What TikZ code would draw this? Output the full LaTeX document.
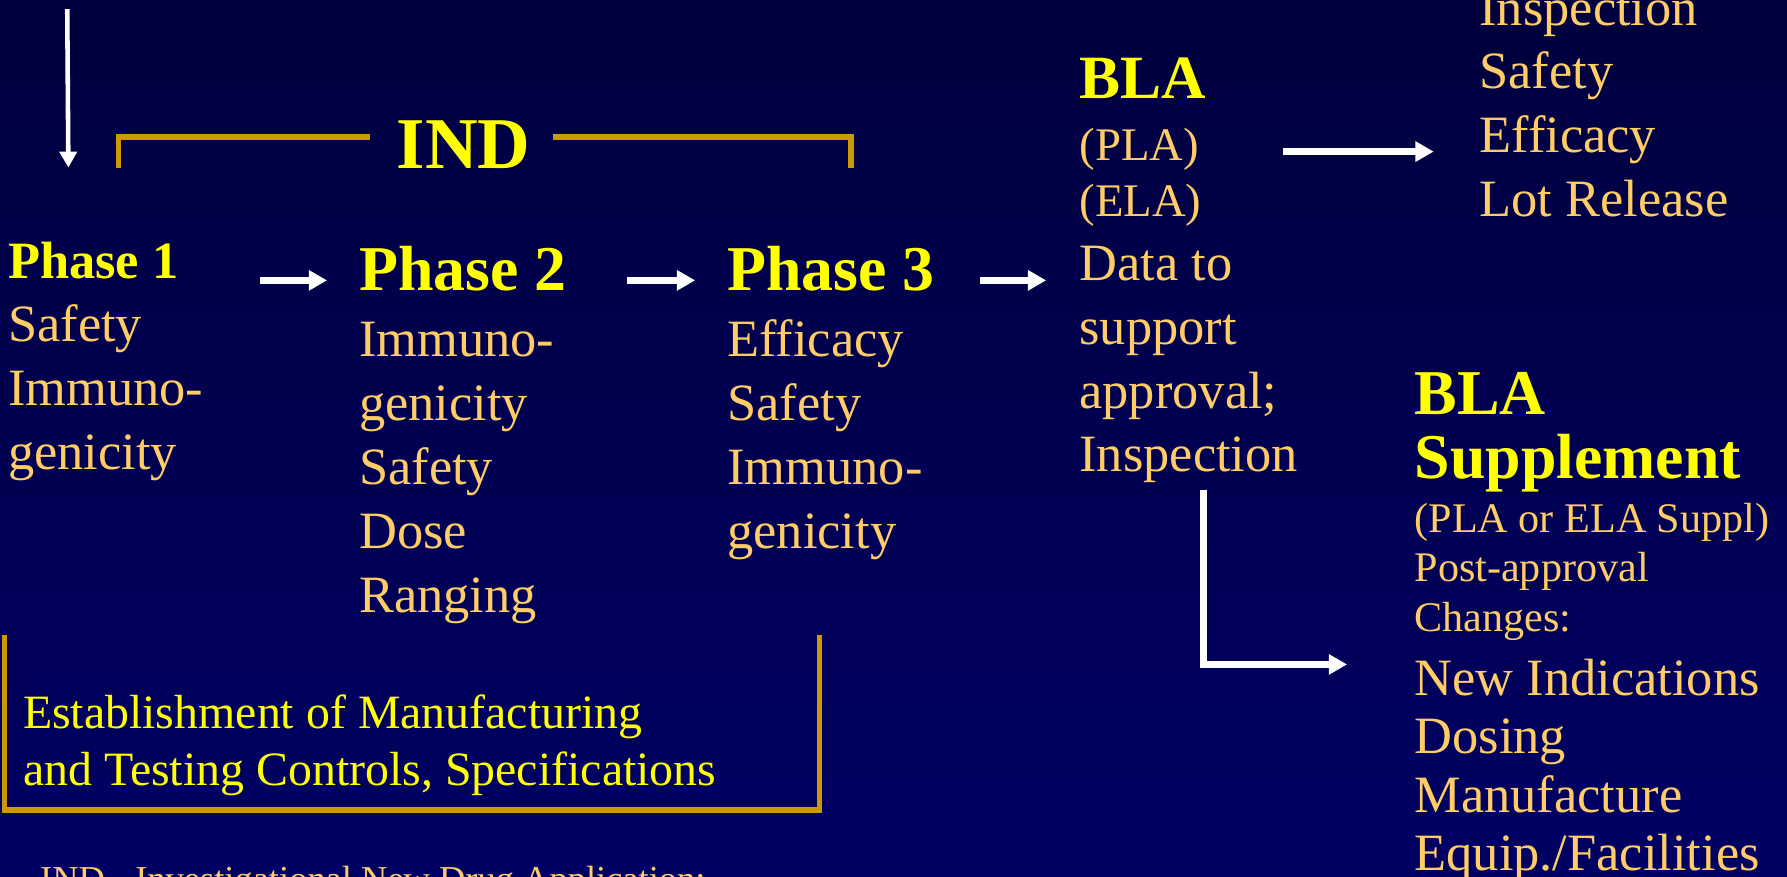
\documentclass[tikz,border=0pt]{standalone}
\usepackage{fontspec}
\setmainfont{Liberation Serif}
\usetikzlibrary{arrows.meta}

\definecolor{slidetop}{RGB}{0,0,62}
\definecolor{slidebot}{RGB}{0,0,100}
\definecolor{peach}{RGB}{255,204,102}
\definecolor{lemon}{RGB}{255,255,0}
\definecolor{gold}{RGB}{204,153,0}

\tikzset{
	body/.style={text=peach, anchor=base west, inner sep=0pt, font=\fontsize{46}{56}\selectfont},
	small/.style={body, font=\fontsize{41}{50}\selectfont},
	note/.style={body, font=\fontsize{37}{43}\selectfont},
	head/.style={text=lemon, anchor=base west, inner sep=0pt, font=\bfseries\fontsize{56}{56}\selectfont},
	flow/.style={draw=white, line width=6pt, -{Triangle[length=16pt,width=17pt]}},
	bracket/.style={draw=gold, line width=5pt},
}

\begin{document}
\begin{tikzpicture}[x=1pt, y=-1pt]
		\clip (0,0) rectangle (1568,769.5);
		\shade[top color=slidetop, bottom color=slidebot] (0,0) rectangle (1568,769.5);
		% IND bracket
		\node[head, font=\bfseries\fontsize{64}{64}\selectfont] (ind) at (348,148) {IND};
		\draw[bracket] (104,147) |- (325,120);
		\draw[bracket] (485,120) -| (747,147);
		% phases
		\node[head, font=\bfseries\fontsize{46}{56}\selectfont] (ph1) at (7,244) {Phase 1};
		\foreach \t [count=\i] in {Safety,Immuno-,genicity}
		{
			\node[body] (ph1-\i) at (7,{300+56*(\i-1)}) {\t};
		}
		\node[head] (ph2) at (315,255) {Phase 2};
		\foreach \t [count=\i] in {Immuno-,genicity,Safety,Dose,Ranging}
		{
			\node[body] (ph2-\i) at (315,{313+56*(\i-1)}) {\t};
		}
		\node[head] (ph3) at (638,255) {Phase 3};
		\foreach \t [count=\i] in {Efficacy,Safety,Immuno-,genicity}
		{
			\node[body] (ph3-\i) at (638,{313+56*(\i-1)}) {\t};
		}
		% BLA
		\node[head, font=\bfseries\fontsize{54}{56}\selectfont] (bla) at (947,86) {BLA};
		\node[small] (bla-p) at (947,141) {(PLA)};
		\node[small] (bla-e) at (947,190) {(ELA)};
		\foreach \t [count=\i] in {Data to,support,approval;,Inspection}
		{
			\node[body] (bla-\i) at (947,{246+56*(\i-1)}) {\t};
		}
		\foreach \t [count=\i] in {Inspection,Safety,Efficacy,Lot Release}
		{
			\node[body] (chk-\i) at (1298,{22+56*(\i-1)}) {\t};
		}
		% supplement
		\node[head] (sup) at (1241,364) {BLA};
		\node[head] (sup-2) at (1241,420) {Supplement};
		\foreach \t [count=\i] in {(PLA or ELA Suppl),Post-approval,Changes:}
		{
			\node[note] (sup-n\i) at (1241,{467+43.5*(\i-1)}) {\t};
		}
		\foreach \t [count=\i] in {New Indications,Dosing,Manufacture,Equip./Facilities}
		{
			\node[body] (chg-\i) at (1241,{610+51.3*(\i-1)}) {\t};
		}
		% manufacturing box
		\draw[bracket] (4,557) |- (719,711) -- (719,557);
		\node[body, text=lemon, font=\fontsize{42}{50}\selectfont] (mfg-1) at (20,639) {Establishment of Manufacturing};
		\node[body, text=lemon, font=\fontsize{42}{50}\selectfont] (mfg-2) at (20,689) {and Testing Controls, Specifications};
		\node[body, font=\fontsize{32}{38}\selectfont] (abbr) at (35,782) {IND - Investigational New Drug Application;};
		% arrows
		\coordinate (in-s) at (59,8);
		\coordinate (in-e) at (60,147);
		\draw[draw=white, line width=4pt, -{Triangle[length=14pt,width=15pt]}] (in-s) -- (in-e);
		\coordinate (a1-s) at (228,246);
		\coordinate (a1-e) at (287,246);
		\coordinate (a2-s) at (550,246);
		\coordinate (a2-e) at (610,246);
		\coordinate (a3-s) at (860,246);
		\coordinate (a3-e) at (918,246);
		\coordinate (a4-s) at (1126,133);
		\coordinate (a4-e) at (1258,133);
		\coordinate (a5-s) at (1056,430);
		\coordinate (a5-e) at (1182,583);
		\draw[flow] (a1-s) -- (a1-e);
		\draw[flow] (a2-s) -- (a2-e);
		\draw[flow] (a3-s) -- (a3-e);
		\draw[flow] (a4-s) -- (a4-e);
		\draw[flow] (a5-s) |- (a5-e);
	\end{tikzpicture}
\end{document}
